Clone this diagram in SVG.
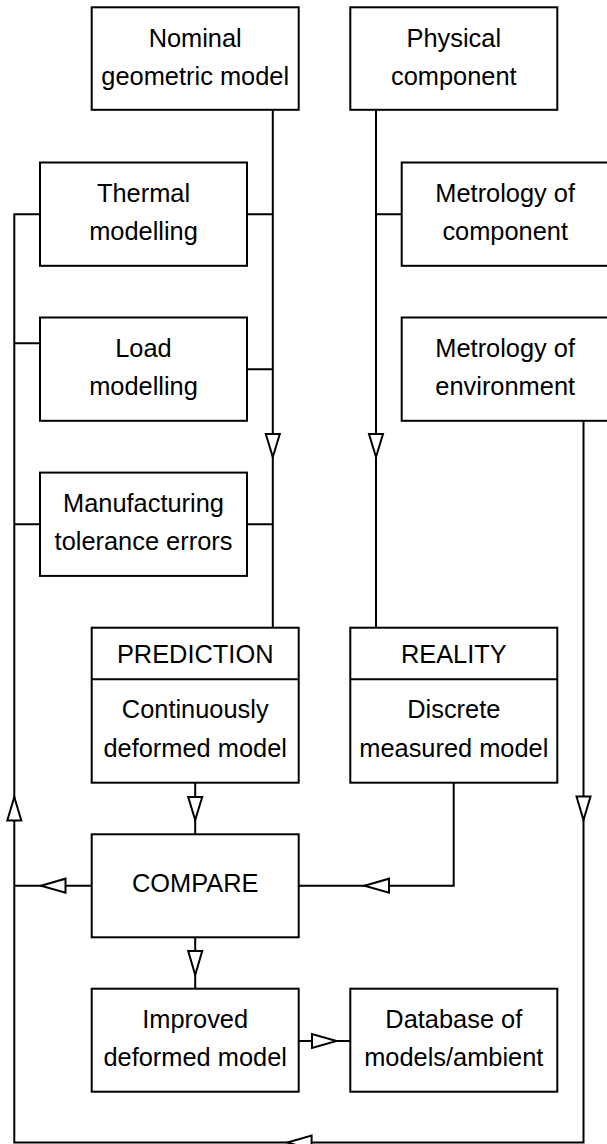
<svg xmlns="http://www.w3.org/2000/svg" width="607" height="1144" viewBox="0 0 607 1144">
<style>
.box{fill:#fff;stroke:#000;stroke-width:2}
.ln{fill:none;stroke:#000;stroke-width:2;stroke-linejoin:miter}
.arr{fill:#fff;stroke:#000;stroke-width:2;stroke-linejoin:miter}
text{font-family:"Liberation Sans",Arial,Helvetica,sans-serif;font-size:25.4px;fill:#000;text-anchor:middle}
</style>
<rect width="607" height="1144" fill="#fff"/>
<g id="connectors">
<path class="ln" d="M272.8 110 V627.7 M247 214.3 H272.8 M247 369.3 H272.8 M247 524.3 H272.8"/>
<path class="ln" d="M376 110 V627.7 M376 214.3 H401.7"/>
<path class="ln" d="M40 214.3 H14.3 V1142.5 H583.5 V420 M40 343.3 H14.3 M40 524.3 H14.3"/>
<path class="ln" d="M91.7 885.7 H14.3"/>
<path class="ln" d="M453.7 782.7 V885.7 H298.7"/>
<path class="ln" d="M195.2 782.7 V834.3 M195.2 937.3 V988.7 M298.7 1041 H350"/>
<polygon class="arr" points="265.8,434 279.8,434 272.8,457"/>
<polygon class="arr" points="369,434 383,434 376,457"/>
<polygon class="arr" points="188.2,797 202.2,797 195.2,820"/>
<polygon class="arr" points="188.2,951 202.2,951 195.2,975"/>
<polygon class="arr" points="576.5,796.5 590.5,796.5 583.5,820"/>
<polygon class="arr" points="7.3,820.5 21.3,820.5 14.3,797"/>
<polygon class="arr" points="41,885.7 65.5,878.7 65.5,892.7"/>
<polygon class="arr" points="364.5,885.7 389,878.7 389,892.7"/>
<polygon class="arr" points="287.5,1142.5 311.6,1135.5 311.6,1149.5"/>
<polygon class="arr" points="336.5,1041 312,1034 312,1048"/>
</g>
<g id="nominal">
<rect class="box" x="91.7" y="7.3" width="207" height="102.5"/>
<text x="195.2" y="46.7">Nominal</text>
<text x="195.2" y="84.5">geometric model</text>
</g>
<g id="physical">
<rect class="box" x="350.3" y="7.3" width="207" height="102.5"/>
<text x="453.8" y="46.7">Physical</text>
<text x="453.8" y="84.5">component</text>
</g>
<g id="thermal">
<rect class="box" x="40" y="162.5" width="207" height="103.3"/>
<text x="143.5" y="201.5">Thermal</text>
<text x="143.5" y="239.5">modelling</text>
</g>
<g id="metrology-component">
<rect class="box" x="401.7" y="162.5" width="207" height="103.3"/>
<text x="505.2" y="201.5">Metrology of</text>
<text x="505.2" y="239.5">component</text>
</g>
<g id="load">
<rect class="box" x="40" y="317.5" width="207" height="103.3"/>
<text x="143.5" y="356.5">Load</text>
<text x="143.5" y="394.5">modelling</text>
</g>
<g id="metrology-environment">
<rect class="box" x="401.7" y="317.5" width="207" height="103.3"/>
<text x="505.2" y="356.5">Metrology of</text>
<text x="505.2" y="394.5">environment</text>
</g>
<g id="manufacturing">
<rect class="box" x="40" y="472.6" width="207" height="103.3"/>
<text x="143.5" y="511.6">Manufacturing</text>
<text x="143.5" y="549.6">tolerance errors</text>
</g>
<g id="prediction">
<rect class="box" x="91.7" y="627.7" width="207" height="155"/>
<path class="ln" d="M91.7 679.3 H298.7"/>
<text x="195.2" y="663.3">PREDICTION</text>
<text x="195.2" y="718.3">Continuously</text>
<text x="195.2" y="756.5">deformed model</text>
</g>
<g id="reality">
<rect class="box" x="350.3" y="627.7" width="207" height="155"/>
<path class="ln" d="M350.3 679.3 H557.3"/>
<text x="453.8" y="663.3">REALITY</text>
<text x="453.8" y="718.3">Discrete</text>
<text x="453.8" y="756.5">measured model</text>
</g>
<g id="compare">
<rect class="box" x="91.7" y="834.3" width="207" height="103"/>
<text x="195.2" y="891.7">COMPARE</text>
</g>
<g id="improved">
<rect class="box" x="91.7" y="988.7" width="207" height="103"/>
<text x="195.2" y="1028.3">Improved</text>
<text x="195.2" y="1066">deformed model</text>
</g>
<g id="database">
<rect class="box" x="350.3" y="988.7" width="207" height="103"/>
<text x="453.8" y="1028.3">Database of</text>
<text x="453.8" y="1066">models/ambient</text>
</g>
</svg>
